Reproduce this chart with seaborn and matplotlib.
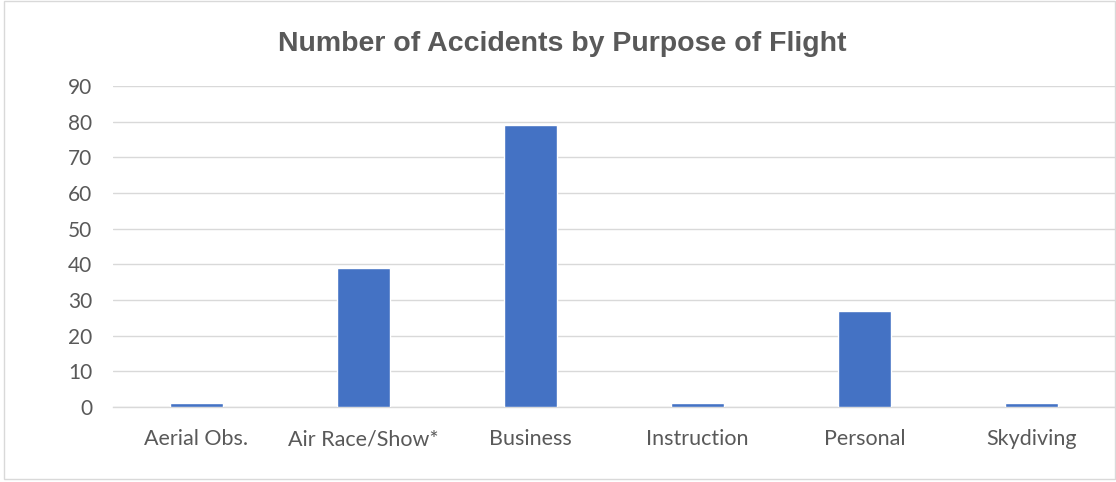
import pandas as pd
import matplotlib.pyplot as plt
import seaborn as sns
from matplotlib.patches import Rectangle

purposes = ['Aerial Obs.', 'Air Race/Show*', 'Business', 'Instruction', 'Personal', 'Skydiving']
accidents = [1, 39, 79, 1, 27, 1]

df = pd.DataFrame({'purpose': purposes, 'accidents': accidents})

sns.set_style('white')
plt.rcParams['font.family'] = ['Lato', 'DejaVu Sans']

fig = plt.figure(figsize=(11.16, 4.82), dpi=100)
ax = fig.add_axes([0.1013, 0.1556, 0.8977, 0.666])

sns.barplot(data=df, x='purpose', y='accidents', color='#4472C4', width=0.317,
            saturation=1, ax=ax, zorder=3)

ax.set_ylim(0, 90)
ax.set_yticks(range(0, 91, 10))
ax.set_xlim(-0.5, 5.5)
ax.grid(axis='y', color='#D9D9D9', linewidth=1.0, zorder=0)
ax.set_axisbelow(True)
for s in ['top', 'right', 'left']:
    ax.spines[s].set_visible(False)
ax.spines['bottom'].set_color('#D9D9D9')
ax.spines['bottom'].set_linewidth(1.0)
ax.tick_params(axis='y', length=0, pad=15, labelsize=15, labelcolor='#595959')
ax.tick_params(axis='x', length=0, pad=16, labelsize=15.5, labelcolor='#595959')
ax.set_xlabel('')
ax.set_ylabel('')

fig.text(0.504, 0.908, 'Number of Accidents by Purpose of Flight', ha='center', va='center',
         fontsize=20.5, fontweight='bold', color='#595959', family='Liberation Sans')

# light frame around the chart area
fig.patches.append(Rectangle((0.004, 0.006), 0.995, 0.992, transform=fig.transFigure,
                             fill=False, edgecolor='#D9D9D9', linewidth=1.0))

fig.savefig('out.png', dpi=100)
